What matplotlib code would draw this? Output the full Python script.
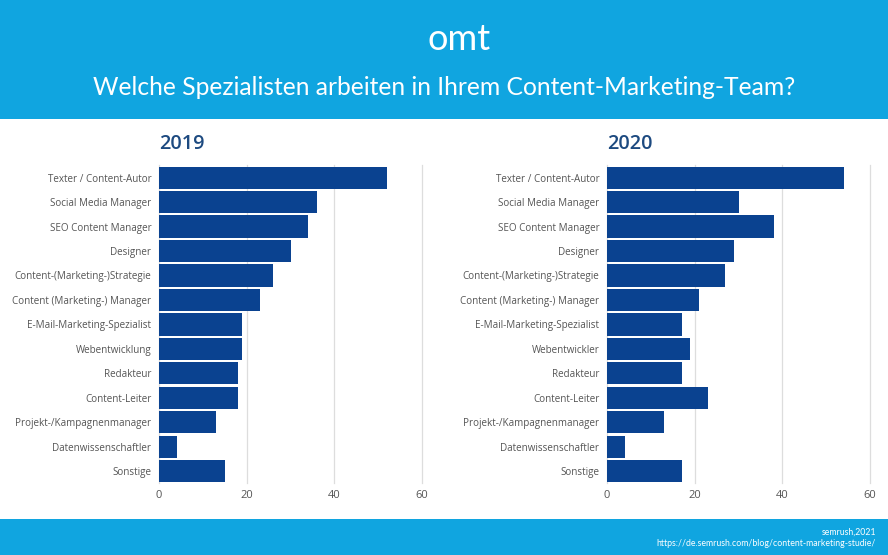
import matplotlib

matplotlib.use("Agg")
import matplotlib.pyplot as plt
from matplotlib.patches import Rectangle

W, H = 888, 555
BLUE = "#10a5e0"
NAVY = "#0a4290"

labels_2019 = [
    "Texter / Content-Autor", "Social Media Manager", "SEO Content Manager",
    "Designer", "Content-(Marketing-)Strategie", "Content (Marketing-) Manager",
    "E-Mail-Marketing-Spezialist", "Webentwicklung", "Redakteur", "Content-Leiter",
    "Projekt-/Kampagnenmanager", "Datenwissenschaftler", "Sonstige",
]
labels_2020 = labels_2019[:7] + ["Webentwickler"] + labels_2019[8:]
values_2019 = [52, 36, 34, 30, 26, 23, 19, 19, 18, 18, 13, 4, 15]
values_2020 = [54, 30, 38, 29, 27, 21, 17, 19, 17, 23, 13, 4, 17]
ticks = [0, 20, 40, 60]


def px_axes(fig, x0, y0, x1, y1):
    # pixel box, y measured from the top of the image
    return fig.add_axes([x0 / W, 1 - y1 / H, (x1 - x0) / W, (y1 - y0) / H])


def draw_panel(fig, x0, labels, values, year):
    ax = px_axes(fig, x0, 165.4, x0 + 263, 483.4)
    pos = list(range(len(labels)))
    ax.barh(pos, values, height=0.91, color=NAVY, zorder=3)
    ax.set_xlim(0, 60)
    ax.set_ylim(12.5, -0.5)
    ax.set_xticks(ticks)
    ax.set_yticks(pos, labels)
    ax.grid(axis="x", color="#dddddd", lw=0.9, zorder=0, clip_on=False)
    ax.tick_params(length=0)
    ax.tick_params(axis="y", pad=5.5, labelsize=7.1, labelcolor="#555555")
    ax.tick_params(axis="x", pad=5, labelsize=8, labelcolor="#555555")
    for s in ax.spines.values():
        s.set_visible(False)
    ax.set_axisbelow(True)
    fig.text(x0 / W, 1 - 144 / H, year, fontsize=14.3, fontweight="semibold",
             color="#1d4a80", va="center", family="Open Sans")


plt.rcParams["font.family"] = "Open Sans"
fig = plt.figure(figsize=(W / 100, H / 100), dpi=100, facecolor="white")

fig.add_artist(Rectangle((0, 1 - 119 / H), 1, 119 / H, transform=fig.transFigure,
                         color=BLUE, lw=0))
fig.add_artist(Rectangle((0, 0), 1, 36 / H, transform=fig.transFigure,
                         color=BLUE, lw=0))

fig.text(459.5 / W, 1 - 40 / H, "omt", fontsize=26, color="white",
         ha="center", va="center", family="Lato")
fig.text(444.5 / W, 1 - 87.5 / H, "Welche Spezialisten arbeiten in Ihrem Content-Marketing-Team?",
         fontsize=17.7, color="white", ha="center", va="center", family="Lato")

draw_panel(fig, 159, labels_2019, values_2019, "2019")
draw_panel(fig, 607, labels_2020, values_2020, "2020")

fig.text(876 / W, 1 - 532 / H, "semrush,2021", fontsize=6.3, color="white",
         ha="right", va="center", family="Lato")
fig.text(876 / W, 1 - 544 / H, "https://de.semrush.com/blog/content-marketing-studie/",
         fontsize=6.3, color="white", ha="right", va="center", family="Lato")

fig.savefig("out.png", dpi=100)
